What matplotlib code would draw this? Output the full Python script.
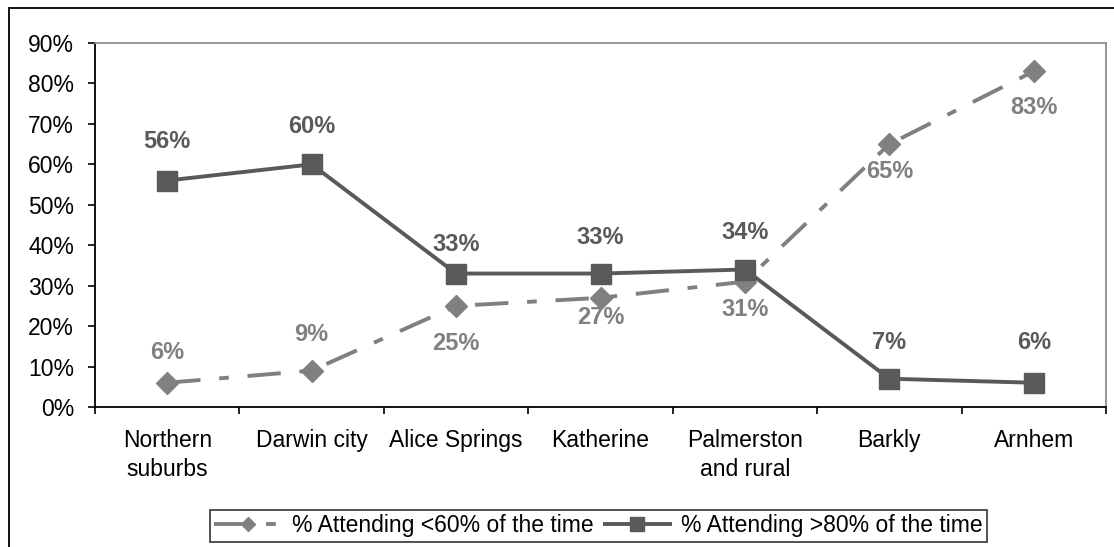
import matplotlib
matplotlib.use('Agg')
import matplotlib.pyplot as plt
from matplotlib.patches import Rectangle
from matplotlib.ticker import FixedLocator, PercentFormatter

plt.rcParams['font.family'] = ['Liberation Sans', 'DejaVu Sans']
plt.rcParams['lines.scale_dashes'] = False

# attendance by region
regions = ['Northern\nsuburbs', 'Darwin city', 'Alice Springs', 'Katherine',
           'Palmerston\nand rural', 'Barkly', 'Arnhem']
under60 = [6, 9, 25, 27, 31, 65, 83]
over80 = [56, 60, 33, 33, 34, 7, 6]

# vertical label offsets from each marker, in points (+ above, - below)
under60_dy = [22, 26, -27, -14, -20, -20, -26]
over80_dy = [28, 27, 21, 26, 27, 26, 29]

light = '#808080'
dark = '#595959'

fig = plt.figure(figsize=(11.14, 5.47), dpi=100)
ax = fig.add_axes([0.0853, 0.2559, 0.9075, 0.6655])

x = list(range(len(regions)))
ax.plot(x, under60, color=light, lw=2.8, marker='D', ms=11.5, mec=light,
        dashes=(24, 13.5, 7, 13.5), dash_capstyle='butt',
        label='% Attending <60% of the time')
ax.plot(x, over80, color=dark, lw=2.8, marker='s', ms=15, mec=dark,
        solid_capstyle='butt', label='% Attending >80% of the time')

for xi, v, dy in zip(x, over80, over80_dy):
    ax.annotate(f'{v}%', (xi, v), xytext=(0, dy), textcoords='offset points',
                ha='center', va='center', fontsize=17, fontweight='bold', color=dark)
for xi, v, dy in zip(x, under60, under60_dy):
    ax.annotate(f'{v}%', (xi, v), xytext=(0, dy), textcoords='offset points',
                ha='center', va='center', fontsize=17, fontweight='bold', color=light)

ax.set_ylim(0, 90)
ax.set_yticks(range(0, 91, 10))
ax.yaxis.set_major_formatter(PercentFormatter(decimals=0))
ax.set_xlim(-0.5, len(regions) - 0.5)
ax.xaxis.set_major_locator(FixedLocator([i - 0.5 for i in range(len(regions) + 1)]))
ax.xaxis.set_minor_locator(FixedLocator(x))
ax.set_xticklabels([], minor=False)
ax.set_xticklabels(regions, minor=True, linespacing=1.3)
ax.tick_params(axis='x', which='major', direction='out', length=5, width=1.2, color='black')
ax.tick_params(axis='x', which='minor', length=0, pad=16, labelsize=16.5)
ax.tick_params(axis='y', direction='out', length=5, width=1.2, pad=10, labelsize=16.5)

for s in ['left', 'bottom']:
    ax.spines[s].set_color('black')
    ax.spines[s].set_linewidth(1.3)
for s in ['top', 'right']:
    ax.spines[s].set_color('#8c8c8c')
    ax.spines[s].set_linewidth(1.3)

leg = fig.legend(loc='center', bbox_to_anchor=(0.537, 0.039), ncol=2, fontsize=16.5,
                 frameon=True, fancybox=False, edgecolor='black', handlelength=3.0,
                 handletextpad=0.4, columnspacing=0.4, borderpad=0.2, markerscale=0.65)
leg.get_frame().set_linewidth(1.2)

# outer chart border
fig.patches.append(Rectangle((0.0081, -0.2), 1.2, 1.1854, transform=fig.transFigure,
                             fill=False, edgecolor='black', lw=1.3))

fig.savefig('out.png', dpi=100)
